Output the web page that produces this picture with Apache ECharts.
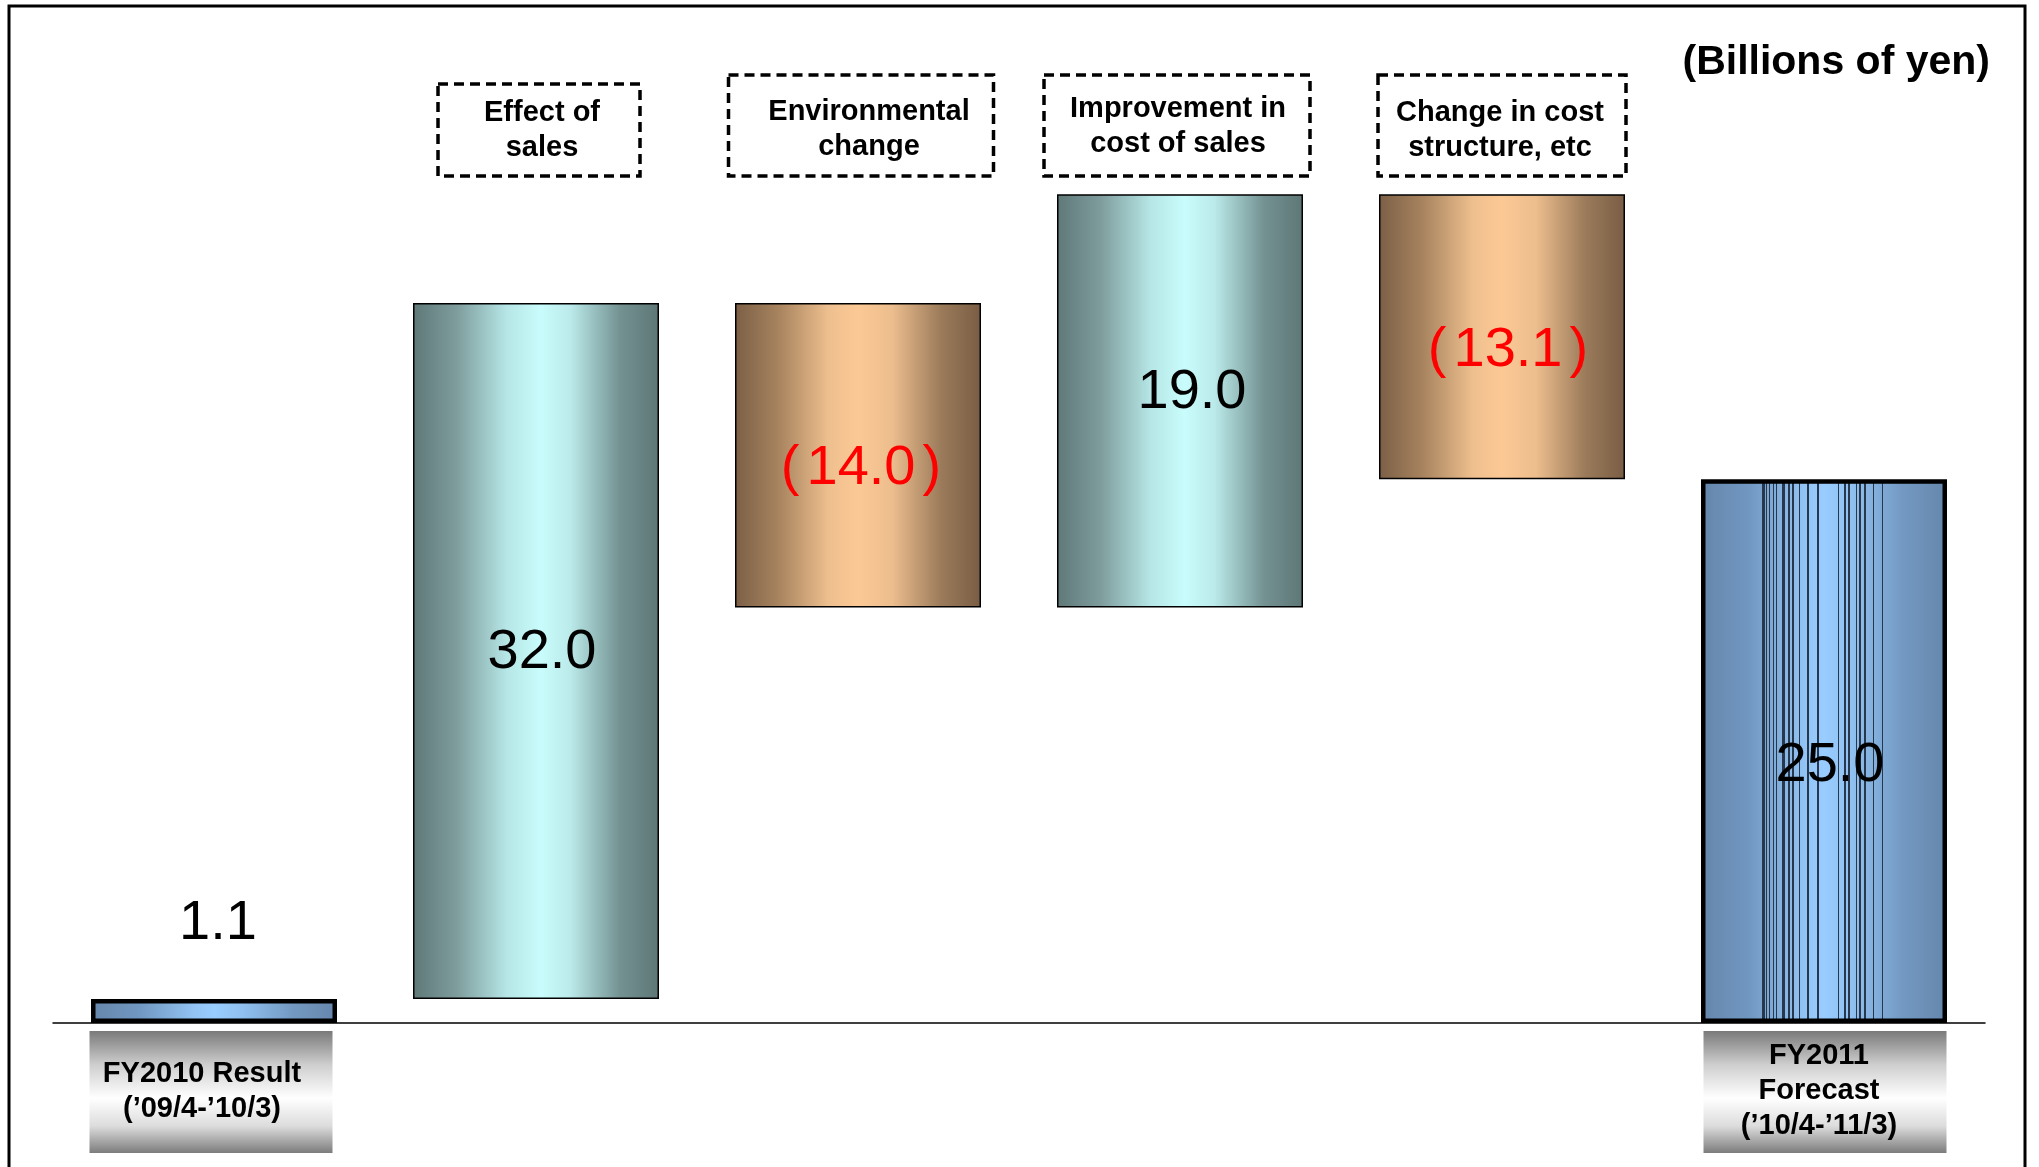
<!DOCTYPE html>
<html>
<head>
<meta charset="utf-8">
<script src="https://cdn.jsdelivr.net/npm/echarts@6/dist/echarts.min.js"></script>
<style>
  html, body { margin: 0; padding: 0; background: #fff; }
  #chart { width: 2039px; height: 1167px; }
</style>
</head>
<body>
<div id="chart"></div>
<script>
// ---- data ----
const categories = ['FY2010 Result', 'Effect of sales', 'Environmental change',
  'Improvement in cost of sales', 'Change in cost structure, etc', 'FY2011 Forecast'];
const changes = [1.1, 32.0, -14.0, 19.0, -13.1, 25.0];
const barKinds = ['total', 'increase', 'decrease', 'increase', 'decrease', 'total'];
const headerLabels = ['', 'Effect of\nsales', 'Environmental\nchange',
  'Improvement in\ncost of sales', 'Change in cost\nstructure, etc', ''];
const footerLabels = ['FY2010 Result\n(\u201909/4-\u201910/3)', '', '', '', '',
  'FY2011\nForecast\n(\u201910/4-\u201911/3)'];
const unitLabel = '(Billions of yen)';

// ---- styles (pixel tweaks, not data) ----
const FONT = '"Liberation Sans", Arial, Helvetica, sans-serif';
const headerBoxWidths = [0, 202, 265, 266, 248, 0];
const headerBoxHeights = [0, 92, 101, 101, 101, 0];
const headerBoxDx = [0, 3, 3, -3, 0, 0];
const headerTextOffset = [[0, 0], [6, -1], [11, 3], [-2, 0], [-2, 4], [0, 0]];
const footerBoxDx = [-3, 0, 0, 0, 0, 1];
const footerTextOffset = [[-12, -3], [0, 0], [0, 0], [0, 0], [0, 0], [-5, -3]];
const valueLabelOffset = [[4, -4], [6, 1], [3, 13], [12, -8], [6, 14], [6, 14]];
// thin vertical streaks visible inside the forecast bar (relative positions)
const streakOffsets = [0.252, 0.259, 0.265, 0.279, 0.295, 0.306, 0.333, 0.340, 0.358, 0.374,
  0.401, 0.435, 0.476, 0.558, 0.585, 0.599, 0.605, 0.633, 0.646, 0.667, 0.701, 0.739];

const gradStops = {
  increase: [[0, '#5f7878'], [0.18, '#7f9d9d'], [0.38, '#b6e6e6'], [0.52, '#c9fcfc'],
    [0.64, '#bbeaea'], [0.84, '#749292'], [1, '#5e7676']],
  decrease: [[0, '#7b5f46'], [0.18, '#a8845f'], [0.38, '#eebf8e'], [0.5, '#fcc995'],
    [0.64, '#ecbd8d'], [0.84, '#9a7a5a'], [1, '#795d44']],
  total: [[0, '#6686ab'], [0.2, '#7198c2'], [0.42, '#92c3f4'], [0.5, '#99ccff'],
    [0.62, '#8fbfef'], [0.82, '#7399c2'], [1, '#6686ab']]
};

function hexToRgb(h) {
  return [parseInt(h.slice(1, 3), 16), parseInt(h.slice(3, 5), 16), parseInt(h.slice(5, 7), 16)];
}
function colorAt(stops, o) {
  for (let k = 0; k < stops.length - 1; k++) {
    const a = stops[k], b = stops[k + 1];
    if (o >= a[0] && o <= b[0]) {
      const t = (o - a[0]) / (b[0] - a[0] || 1);
      const ca = hexToRgb(a[1]), cb = hexToRgb(b[1]);
      const c = ca.map((v, j) => Math.round(v + (cb[j] - v) * t));
      return 'rgb(' + c.join(',') + ')';
    }
  }
  return stops[stops.length - 1][1];
}
function hGrad(stops) {
  return new echarts.graphic.LinearGradient(0, 0, 1, 0,
    stops.map(s => ({ offset: s[0], color: s[1] })));
}
function streakGrad(stops, lines) {
  const w = 0.0025;
  let all = stops.map(s => [s[0], s[1]]);
  lines.forEach(o => {
    const c = colorAt(stops, o);
    all.push([o - w, c], [o - w, '#27384d'], [o + w, '#27384d'], [o + w, c]);
  });
  all.sort((a, b) => a[0] - b[0]);
  return new echarts.graphic.LinearGradient(0, 0, 1, 0,
    all.map(s => ({ offset: s[0], color: s[1] })));
}

// ---- waterfall geometry from data ----
const baseVals = [];
const heightVals = [];
let running = 0;
changes.forEach((v, i) => {
  if (barKinds[i] === 'total') {
    baseVals.push(0); heightVals.push(v); running = v;
  } else if (v >= 0) {
    baseVals.push(running); heightVals.push(v); running += v;
  } else {
    running += v; baseVals.push(running); heightVals.push(-v);
  }
});

function fmt(i) {
  const v = changes[i];
  return v < 0 ? '{p|(}' + Math.abs(v).toFixed(1) + '{p|)}' : v.toFixed(1);
}

const valueData = heightVals.map((h, i) => {
  const kind = barKinds[i];
  const isTotal = kind === 'total';
  const fill = (i === heightVals.length - 1) ? streakGrad(gradStops.total, streakOffsets)
    : hGrad(gradStops[kind]);
  const color = changes[i] < 0 ? '#ff0000' : '#000000';
  return {
    value: h,
    itemStyle: {
      color: fill,
      borderColor: '#000',
      borderWidth: isTotal ? 4.5 : 1.5
    },
    label: {
      show: true,
      position: i === 0 ? 'top' : 'inside',
      distance: i === 0 ? 44 : 5,
      offset: valueLabelOffset[i],
      formatter: () => fmt(i),
      color: color,
      fontSize: 56,
      fontFamily: FONT,
      fontWeight: 'normal',
      rich: {
        p: { color: color, fontSize: 56, fontFamily: FONT, padding: [0, 7, 0, 7] }
      }
    }
  };
});

const chart = echarts.init(document.getElementById('chart'), null, { renderer: 'canvas' });

const option = {
  animation: false,
  backgroundColor: '#ffffff',
  title: {
    text: unitLabel,
    right: 49,
    top: 40,
    padding: 0,
    textStyle: { fontFamily: FONT, fontWeight: 'bold', fontSize: 41, color: '#000', lineHeight: 46 }
  },
  grid: { left: 53, right: 54, top: 153, bottom: 144, containLabel: false },
  xAxis: {
    type: 'category',
    data: categories,
    axisLine: { show: true, lineStyle: { color: '#000', width: 1.5 } },
    axisTick: { show: false },
    axisLabel: { show: false },
    splitLine: { show: false }
  },
  yAxis: {
    type: 'value',
    min: 0,
    max: 40,
    interval: 10,
    show: false,
    splitLine: { show: false }
  },
  graphic: [{
    type: 'rect',
    shape: { x: 9, y: 6, width: 2016, height: 1250 },
    style: { fill: 'none', stroke: '#000', lineWidth: 3 },
    silent: true,
    z: 100
  }],
  series: [
    {
      name: 'base',
      type: 'bar',
      stack: 'wf',
      barWidth: 246,
      itemStyle: { color: 'transparent', borderColor: 'transparent' },
      emphasis: { disabled: true },
      silent: true,
      data: baseVals
    },
    {
      name: 'value',
      type: 'bar',
      stack: 'wf',
      barWidth: 246,
      emphasis: { disabled: true },
      silent: true,
      data: valueData
    },
    {
      name: 'labels',
      type: 'custom',
      clip: false,
      silent: true,
      z: 10,
      data: categories.map((c, i) => [i, 0]),
      encode: { x: 0, y: 1 },
      renderItem: function (params, api) {
        const idx = api.value(0);
        const p = api.coord([idx, 0]);
        const cs = params.coordSys;
        if (barKinds[idx] === 'total') {
          const w = 243, h = 122, top = p[1] + 8;
          const cx = p[0] + footerBoxDx[idx];
          return {
            type: 'group',
            children: [{
              type: 'rect',
              shape: { x: cx - w / 2, y: top, width: w, height: h },
              style: {
                fill: new echarts.graphic.LinearGradient(0, 0, 0, 1, [
                  { offset: 0, color: '#7a7a7a' },
                  { offset: 0.28, color: '#cfcfcf' },
                  { offset: 0.55, color: '#ffffff' },
                  { offset: 0.78, color: '#dcdcdc' },
                  { offset: 1, color: '#7c7c7c' }
                ])
              }
            }, {
              type: 'text',
              style: {
                text: footerLabels[idx],
                x: p[0] + footerTextOffset[idx][0],
                y: top + h / 2 + 2 + footerTextOffset[idx][1],
                align: 'center',
                verticalAlign: 'middle',
                font: 'bold 29px ' + FONT,
                lineHeight: 35,
                fill: '#000'
              }
            }]
          };
        }
        const w = headerBoxWidths[idx], h = headerBoxHeights[idx];
        const bottom = cs.y + 23;
        const top = bottom - h;
        return {
          type: 'group',
          children: [{
            type: 'rect',
            shape: { x: p[0] + headerBoxDx[idx] - w / 2, y: top, width: w, height: h },
            style: { fill: 'none', stroke: '#000', lineWidth: 3.5, lineDash: [10, 6] }
          }, {
            type: 'text',
            style: {
              text: headerLabels[idx],
              x: p[0] + headerTextOffset[idx][0],
              y: top + h / 2 + 1 + headerTextOffset[idx][1],
              align: 'center',
              verticalAlign: 'middle',
              font: 'bold 29px ' + FONT,
              lineHeight: 35,
              fill: '#000'
            }
          }]
        };
      }
    }
  ]
};

chart.setOption(option);
</script>
</body>
</html>
